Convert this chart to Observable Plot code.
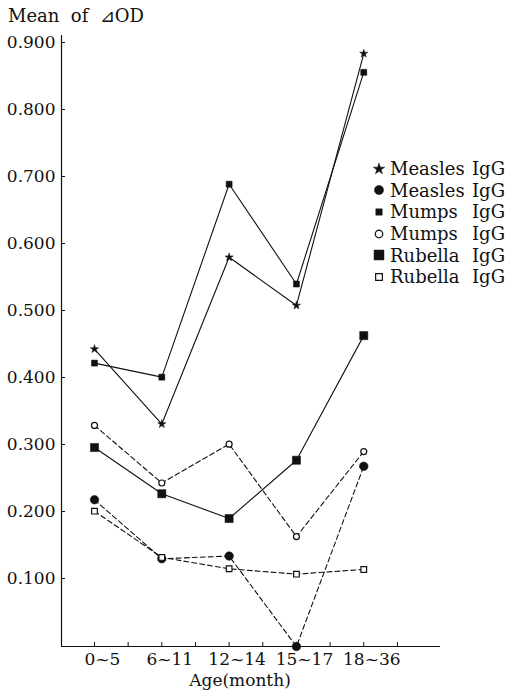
<!DOCTYPE html>
<html><head><meta charset="utf-8">
<script src="https://cdn.jsdelivr.net/npm/d3@7"></script>
<script src="https://cdn.jsdelivr.net/npm/@observablehq/plot@0.6"></script>
<style>
body{margin:0;background:#fff;font-family:"DejaVu Serif",serif;color:#111}
#wrap{position:relative;width:522px;height:694px}
#title{height:26px;box-sizing:border-box;padding:6px 0 0 8px;line-height:20px;font-size:18px;white-space:pre}
#legend{position:absolute;left:372px;top:158px;font-size:18px}
.row{display:flex;align-items:center;height:21.6px;white-space:nowrap}
.row svg{width:14px;height:14px;margin-right:4px;flex:none}
.nm{width:82px;display:inline-block}
</style></head><body>
<div id="wrap"><div id="title">Mean  of  ⊿OD</div><div id="chart"></div><div id="legend"></div></div>
<script>
// ---- data ----
const ages = ["0~5", "6~11", "12~14", "15~17", "18~36"];
const measlesStar   = [0.444, 0.332, 0.581, 0.509, 0.885];
const measlesCircle = [0.219, 0.131, 0.135, 0.000, 0.269];
const mumpsSquare   = [0.423, 0.402, 0.690, 0.541, 0.857];
const mumpsCircle   = [0.330, 0.244, 0.302, 0.164, 0.291];
const rubellaSquare = [0.297, 0.228, 0.191, 0.278, 0.464];
const rubellaOpen   = [0.202, 0.133, 0.116, 0.108, 0.115];
const yTicks = [0.1, 0.2, 0.3, 0.4, 0.5, 0.6, 0.7, 0.8, 0.9];
const xHalfTicks = [0, 0.5, 1, 1.5, 2, 2.5, 3, 3.5, 4, 4.5];
const legendNames = ["Measles", "Measles", "Mumps", "Mumps", "Rubella", "Rubella"];
const legendSuffix = "IgG";

// ---- styles (kept separate from data) ----
const INK = "#111";
const series = [
  {values: measlesStar,   symbol: "star",   r: 2.6, fill: INK,    dash: null, lr: 3.6},
  {values: measlesCircle, symbol: "circle", r: 4.3, fill: INK,    dash: "5,3", lr: 4.6},
  {values: mumpsSquare,   symbol: "square", r: 3.4, fill: INK,    dash: null, lr: 3.6},
  {values: mumpsCircle,   symbol: "circle", r: 3.0, fill: "#fff", dash: "5,3", lr: 3.8},
  {values: rubellaSquare, symbol: "square", r: 4.6, fill: INK,    dash: null, lr: 5.6},
  {values: rubellaOpen,   symbol: "square", r: 3.2, fill: "#fff", dash: "5,3", lr: 3.8}
];

const marks = [
  Plot.ruleY([0], {stroke: INK, strokeWidth: 1.2}),
  Plot.ruleX([-0.49], {y1: 0, y2: 0.912, stroke: INK, strokeWidth: 1.2}),
  Plot.axisY({ticks: yTicks, tickFormat: d3.format(".3f"), tickSize: -4, tickPadding: 10, fontSize: 17, label: null, dy: -1, stroke: INK, color: INK}),
  Plot.axisX({ticks: [0, 1, 2, 3, 4], tickFormat: i => ages[i], tickSize: 0, tickPadding: 6, fontSize: 17, label: null, dx: 8, color: INK}),
  Plot.axisX({ticks: xHalfTicks, tickFormat: () => "", tickSize: -4, label: null, stroke: INK}),
  Plot.text(["Age(month)"], {frameAnchor: "bottom", dy: 39, dx: -11, fontSize: 17, fill: INK})
];
series.forEach(s => {
  const rows = s.values.map((v, i) => ({i, v}));
  marks.push(Plot.line(rows, {x: "i", y: "v", stroke: INK, strokeWidth: 1.1, strokeDasharray: s.dash || undefined}));
});
series.forEach(s => {
  const rows = s.values.map((v, i) => ({i, v}));
  marks.push(Plot.dot(rows, {x: "i", y: "v", symbol: s.symbol, r: s.r, fill: s.fill, stroke: INK, strokeWidth: s.fill === INK ? 0.5 : 1.2}));
});

const chart = Plot.plot({
  width: 522, height: 668,
  marginTop: 17, marginBottom: 48, marginLeft: 61, marginRight: 82,
  x: {domain: [-0.49, 5.14]},
  y: {domain: [0, 0.9]},
  style: {fontFamily: "DejaVu Serif", background: "#fff", color: INK},
  marks
});
document.getElementById("chart").appendChild(chart);

// ---- legend ----
const symMap = {star: d3.symbolStar, circle: d3.symbolCircle, square: d3.symbolSquare};
const lg = d3.select("#legend");
series.forEach((s, k) => {
  const row = lg.append("div").attr("class", "row");
  const svg = row.append("svg").attr("viewBox", "-7 -7 14 14");
  svg.append("path")
    .attr("d", d3.symbol(symMap[s.symbol], Math.PI * s.lr * s.lr)())
    .attr("fill", s.fill).attr("stroke", INK).attr("stroke-width", s.fill === INK ? 0.5 : 1.2);
  row.append("span").attr("class", "nm").text(legendNames[k]);
  row.append("span").text(legendSuffix);
});
</script>
</body></html>
